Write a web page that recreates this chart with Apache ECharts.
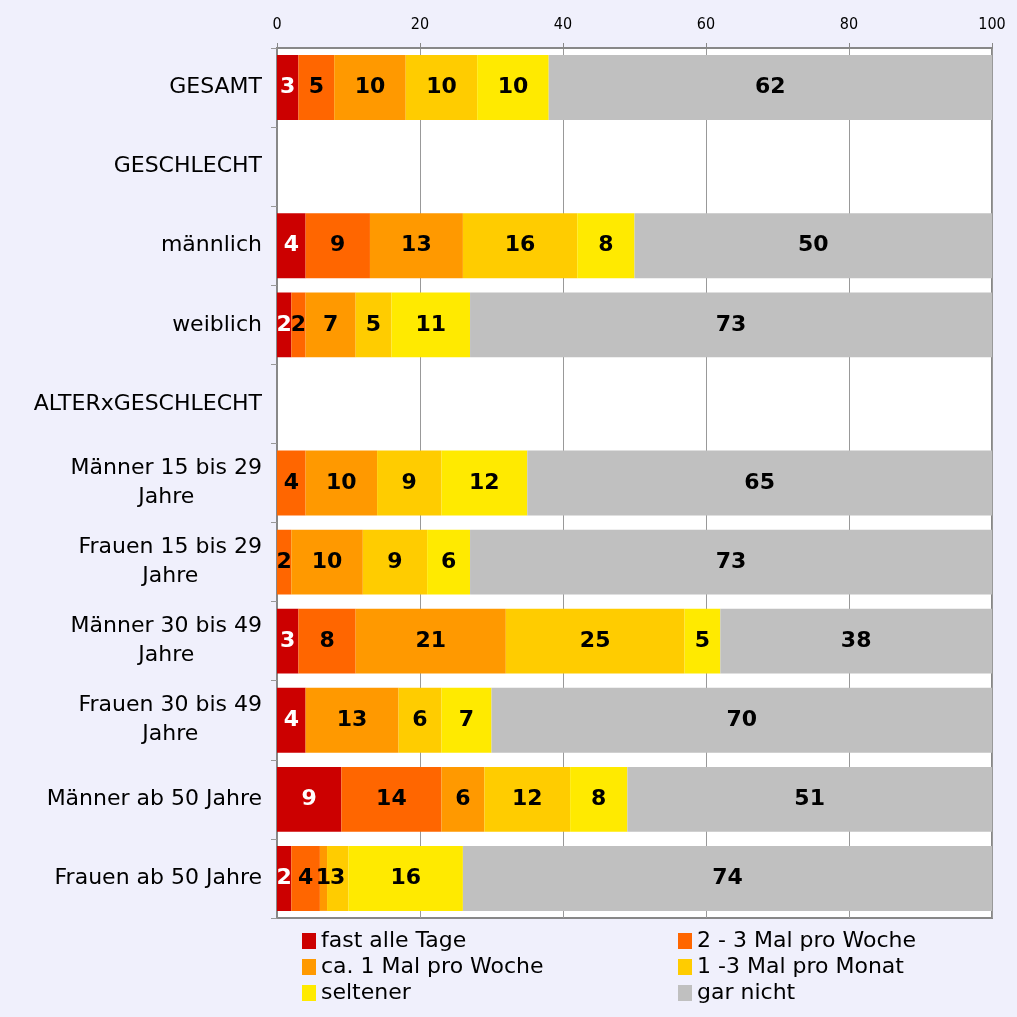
<!DOCTYPE html>
<html>
<head>
<meta charset="utf-8">
<script src="https://cdn.jsdelivr.net/npm/echarts@6/dist/echarts.min.js"></script>
<style>
html,body{margin:0;padding:0;background:#f0f0fc;}
#chart{width:1017px;height:1017px;}
</style>
</head>
<body>
<div id="chart"></div>
<script>
const categories = ["GESAMT", "GESCHLECHT", "männlich", "weiblich", "ALTERxGESCHLECHT",
  "Männer 15 bis 29\nJahre", "Frauen 15 bis 29\nJahre", "Männer 30 bis 49\nJahre",
  "Frauen 30 bis 49\nJahre", "Männer ab 50 Jahre", "Frauen ab 50 Jahre"];
const seriesNames = ["fast alle Tage", "2 - 3 Mal pro Woche", "ca. 1 Mal pro Woche",
  "1 -3 Mal pro Monat", "seltener", "gar nicht"];
const fastAlleTage   = [3, 0, 4, 2, 0, 0, 0, 3, 4, 9, 2];
const zweiDreiWoche  = [5, 0, 9, 2, 0, 4, 2, 8, 0, 14, 4];
const einmalWoche    = [10, 0, 13, 7, 0, 10, 10, 21, 13, 6, 1];
const einsDreiMonat  = [10, 0, 16, 5, 0, 9, 9, 25, 6, 12, 3];
const seltener       = [10, 0, 8, 11, 0, 12, 6, 5, 7, 8, 16];
const garNicht       = [62, 0, 50, 73, 0, 65, 73, 38, 70, 51, 74];
const xTicks = [0, 20, 40, 60, 80, 100];

const seriesData = [fastAlleTage, zweiDreiWoche, einmalWoche, einsDreiMonat, seltener, garNicht];
const colors = ["#cc0000", "#ff6600", "#ff9900", "#ffcc00", "#ffea00", "#c0c0c0"];
const labelColors = ["#ffffff", "#000000", "#000000", "#000000", "#000000", "#000000"];

const FONT = "DejaVu Sans";

const chart = echarts.init(document.getElementById('chart'));
const legendText = { fontFamily: FONT, fontSize: 22, color: "#000", lineHeight: 26 };
const option = {
  backgroundColor: "#f0f0fc",
  animation: false,
  color: colors,
  grid: {
    left: 277, right: 25, top: 48, bottom: 99,
    show: true, backgroundColor: "#ffffff", borderColor: "#888888", borderWidth: 2
  },
  legend: [
    {
      left: 302, top: 928, height: 100, orient: 'vertical', itemGap: 0, itemWidth: 14, itemHeight: 16,
      icon: 'rect', padding: 0,
      data: [seriesNames[0], seriesNames[2], seriesNames[4]],
      textStyle: legendText
    },
    {
      left: 678, top: 928, height: 100, orient: 'vertical', itemGap: 0, itemWidth: 14, itemHeight: 16,
      icon: 'rect', padding: 0,
      data: [seriesNames[1], seriesNames[3], seriesNames[5]],
      textStyle: legendText
    }
  ],
  xAxis: {
    type: 'value', position: 'top', min: xTicks[0], max: xTicks[xTicks.length - 1], interval: 20,
    axisLine: { show: true, lineStyle: { color: "#888888", width: 2 } },
    axisTick: { show: true, length: 5, lineStyle: { color: "#888888" } },
    splitLine: { show: true, lineStyle: { color: "#999999", width: 1 } },
    axisLabel: { fontFamily: "DejaVu Sans Condensed, Liberation Sans Narrow, sans-serif", fontSize: 16, color: "#000", margin: 15 }
  },
  yAxis: {
    type: 'category', inverse: true, data: categories,
    axisLine: { show: true, lineStyle: { color: "#888888", width: 2 } },
    axisTick: { show: true, length: 6, lineStyle: { color: "#999999" } },
    axisLabel: {
      margin: 15, fontFamily: FONT, fontSize: 22, color: "#000", align: 'right',
      formatter: function (v) {
        return v.split("\n").map(function (l) { return "{c|" + l + "}"; }).join("\n");
      },
      rich: { c: { fontFamily: FONT, fontSize: 22, color: "#000", align: 'center', lineHeight: 29 } }
    }
  },
  series: seriesNames.map(function (name, i) {
    return {
      name: name, type: 'bar', stack: 'total', barCategoryGap: '18%',
      data: seriesData[i],
      itemStyle: { color: colors[i] },
      label: {
        show: true, position: 'inside',
        fontFamily: FONT, fontWeight: 'bold', fontSize: 22, color: labelColors[i],
        formatter: function (p) { return p.value ? String(p.value) : ''; }
      }
    };
  })
};
chart.setOption(option);
</script>
</body>
</html>
